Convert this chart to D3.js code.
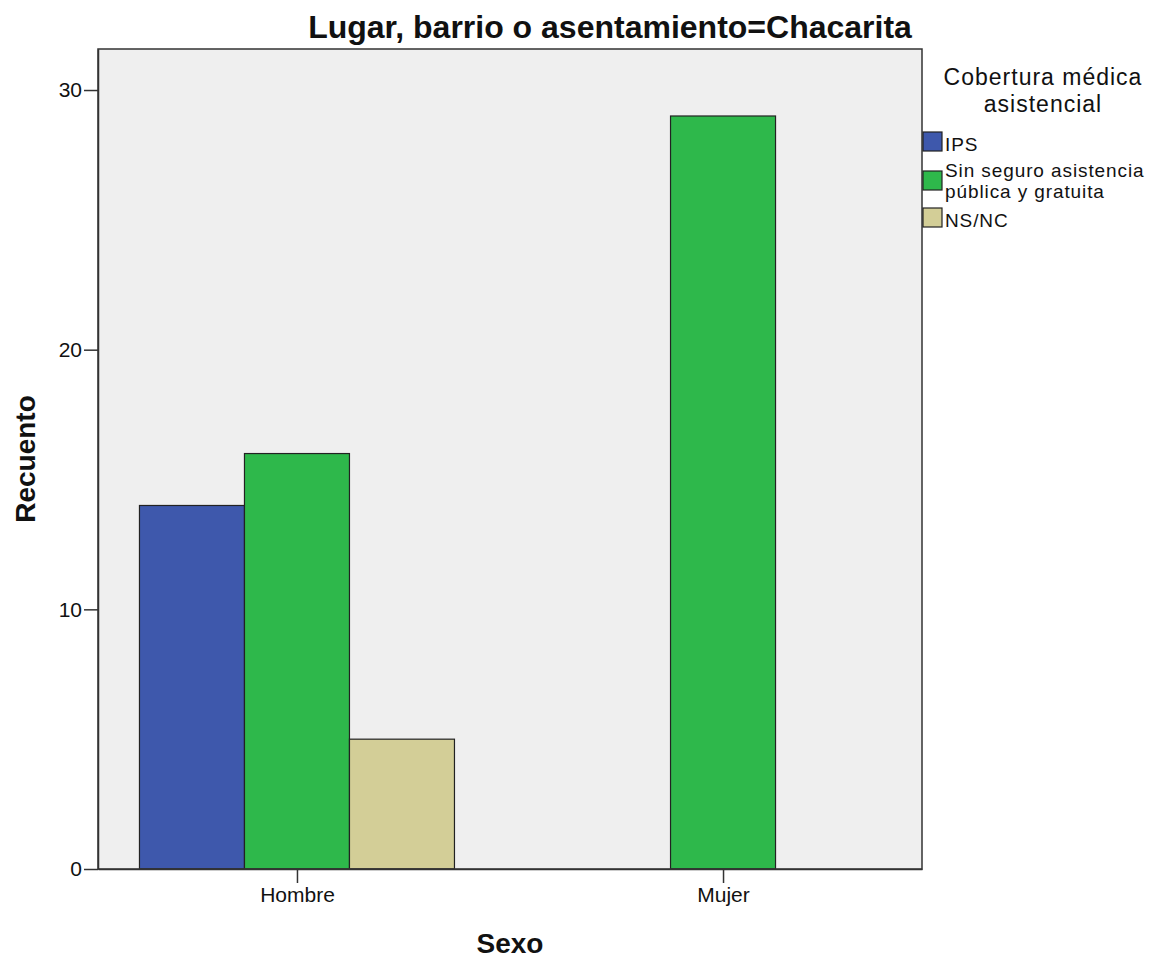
<!DOCTYPE html>
<html lang="es">
<head>
	<meta charset="utf-8">
	<title>Recuento por sexo - Chacarita</title>
	<script src="https://d3js.org/d3.v7.min.js"></script>
	<style>
		body { margin: 0; background: #fff; }
		text { font-family: "Liberation Sans", Arial, sans-serif; fill: #111; }
	</style>
</head>
<body>
<div id="chart"></div>
<script>
	// data
	var sexos = ["Hombre", "Mujer"];
	var coberturas = ["IPS", "Sin seguro asistencia pública y gratuita", "NS/NC"];
	var legendLabels = [["IPS"], ["Sin seguro asistencia", "pública y gratuita"], ["NS/NC"]];
	var hombreValues = [14, 16, 5];
	var mujerValues = [0, 29, 0];
	var yTicks = [0, 10, 20, 30];
	var colors = ["#3e58ac", "#2eb84b", "#d3ce97"];

	var width = 1165;
	var height = 960;
	var plot = {left: 98, right: 922, top: 49, bottom: 869};

	var svg = d3.select("#chart").append("svg")
		.attr("width", width)
		.attr("height", height);

	// build rows for the bars
	var rows = [];
	sexos.forEach(function(s, i) {
		var vals = i == 0 ? hombreValues : mujerValues;
		coberturas.forEach(function(c, j) {
			if (vals[j] > 0) rows.push({sexo: s, cob: c, idx: j, value: vals[j]});
		});
	});

	var y = d3.scaleLinear()
		.domain([0, 31.58])
		.range([plot.bottom, plot.top]);

	var x = d3.scalePoint()
		.domain(sexos)
		.range([plot.left, plot.right])
		.padding(0.467);

	var sub = d3.scaleBand()
		.domain(coberturas)
		.range([-157.5, 157.5]);

	// plot background
	svg.append("rect")
		.attr("x", plot.left)
		.attr("y", plot.top)
		.attr("width", plot.right - plot.left)
		.attr("height", plot.bottom - plot.top)
		.attr("fill", "#efefef");

	// bars
	svg.append("g").selectAll("rect")
		.data(rows)
		.enter().append("rect")
		.attr("x", function(d) { return x(d.sexo) + sub(d.cob); })
		.attr("y", function(d) { return y(d.value); })
		.attr("width", sub.bandwidth())
		.attr("height", function(d) { return y(0) - y(d.value); })
		.attr("fill", function(d) { return colors[d.idx]; })
		.attr("stroke", "#222")
		.attr("stroke-width", 1.2);

	// frame
	svg.append("rect")
		.attr("x", plot.left)
		.attr("y", plot.top)
		.attr("width", plot.right - plot.left)
		.attr("height", plot.bottom - plot.top)
		.attr("fill", "none")
		.attr("stroke", "#333")
		.attr("stroke-width", 1.5);

	// axes
	var yAxis = svg.append("g")
		.attr("transform", "translate(" + plot.left + ",0)")
		.call(d3.axisLeft(y).tickValues(yTicks).tickSize(14).tickSizeOuter(0).tickPadding(2).tickFormat(d3.format("d")));
	var xAxis = svg.append("g")
		.attr("transform", "translate(0," + plot.bottom + ")")
		.call(d3.axisBottom(x).tickSize(14).tickSizeOuter(0).tickPadding(4));
	[yAxis, xAxis].forEach(function(ax) {
		ax.select(".domain").attr("stroke", "#333").attr("stroke-width", 1.5);
		ax.selectAll(".tick line").attr("stroke", "#333").attr("stroke-width", 1.5);
		ax.selectAll(".tick text")
			.style("font-family", "'Liberation Sans', Arial, sans-serif")
			.style("font-size", "21px")
			.attr("fill", "#222");
	});

	// titles
	svg.append("text")
		.attr("x", 610)
		.attr("y", 38)
		.attr("text-anchor", "middle")
		.style("font-size", "32px")
		.style("font-weight", "bold")
		.text("Lugar, barrio o asentamiento=Chacarita");

	svg.append("text")
		.attr("transform", "translate(35,459) rotate(-90)")
		.attr("text-anchor", "middle")
		.style("font-size", "28px")
		.style("font-weight", "bold")
		.text("Recuento");

	svg.append("text")
		.attr("x", 510)
		.attr("y", 953)
		.attr("text-anchor", "middle")
		.style("font-size", "28px")
		.style("font-weight", "bold")
		.text("Sexo");

	// legend
	var legend = svg.append("g");
	legend.selectAll("text.ltitle")
		.data(["Cobertura médica", "asistencial"])
		.enter().append("text")
		.attr("class", "ltitle")
		.attr("x", 1043)
		.attr("y", function(d, i) { return 85 + i * 27; })
		.attr("text-anchor", "middle")
		.style("font-size", "23px")
		.style("letter-spacing", "1px")
		.attr("fill", "#222")
		.text(function(d) { return d; });

	var swatchY = [132, 171, 208];
	var item = legend.selectAll("g.item")
		.data(coberturas)
		.enter().append("g")
		.attr("class", "item")
		.attr("transform", function(d, i) { return "translate(923," + swatchY[i] + ")"; });
	item.append("rect")
		.attr("width", 19)
		.attr("height", 19)
		.attr("fill", function(d, i) { return colors[i]; })
		.attr("stroke", "#222")
		.attr("stroke-width", 1.2);
	item.each(function(d, i) {
		var g = d3.select(this);
		legendLabels[i].forEach(function(line, k) {
			g.append("text")
				.attr("x", 22)
				.attr("y", (legendLabels[i].length > 1 ? 6 : 19) + k * 21)
				.style("font-size", "19px")
				.style("letter-spacing", "0.9px")
				.attr("fill", "#222")
				.text(line);
		});
	});
</script>
</body>
</html>
